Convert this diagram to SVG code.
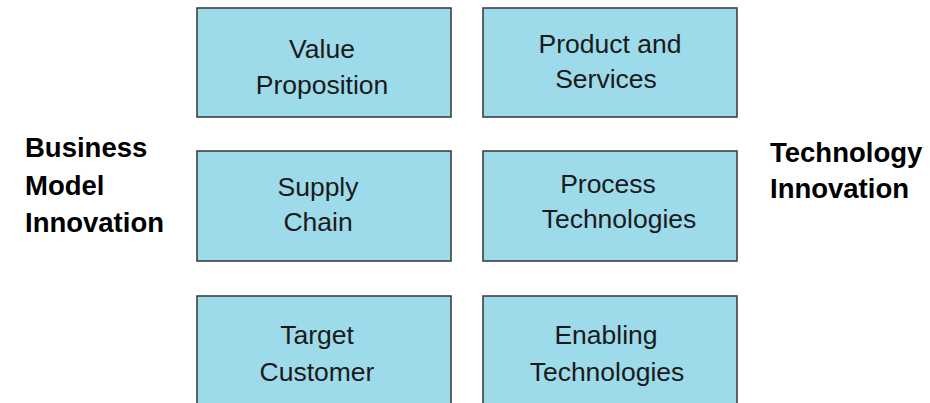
<svg xmlns="http://www.w3.org/2000/svg" width="930" height="403" viewBox="0 0 930 403">
<style>
.box{fill:#9ddbeb;stroke:#404040;stroke-width:1.6}
.t{font-family:"Liberation Sans",Arial,sans-serif;font-size:26.5px;fill:#1a1a1a;text-anchor:middle}
.b{font-family:"Liberation Sans",Arial,sans-serif;font-size:27.5px;font-weight:bold;fill:#000}
</style>
<rect width="930" height="403" fill="#fff"/>
<g id="value-proposition"><rect class="box" x="197" y="8" width="254" height="109"/><text class="t" x="322" y="58">Value</text><text class="t" x="322" y="94">Proposition</text></g>
<g id="product-services"><rect class="box" x="483" y="8" width="254" height="109"/><text class="t" x="610" y="53">Product and</text><text class="t" x="606" y="88">Services</text></g>
<g id="supply-chain"><rect class="box" x="197" y="151" width="254" height="110"/><text class="t" x="318" y="196">Supply</text><text class="t" x="318" y="231">Chain</text></g>
<g id="process-technologies"><rect class="box" x="483" y="151" width="254" height="110"/><text class="t" x="608" y="193">Process</text><text class="t" x="619" y="228">Technologies</text></g>
<g id="target-customer"><rect class="box" x="197" y="296" width="254" height="120"/><text class="t" x="317" y="344">Target</text><text class="t" x="317" y="381">Customer</text></g>
<g id="enabling-technologies"><rect class="box" x="483" y="296" width="254" height="120"/><text class="t" x="606" y="344">Enabling</text><text class="t" x="607" y="381">Technologies</text></g>
<g id="business-model-innovation"><text class="b" x="25" y="157">Business</text><text class="b" x="25" y="195">Model</text><text class="b" x="25" y="232">Innovation</text></g>
<g id="technology-innovation"><text class="b" x="770" y="162" font-size="27">Technology</text><text class="b" x="770" y="198" font-size="27">Innovation</text></g>
<g id="connectors"></g>
</svg>
